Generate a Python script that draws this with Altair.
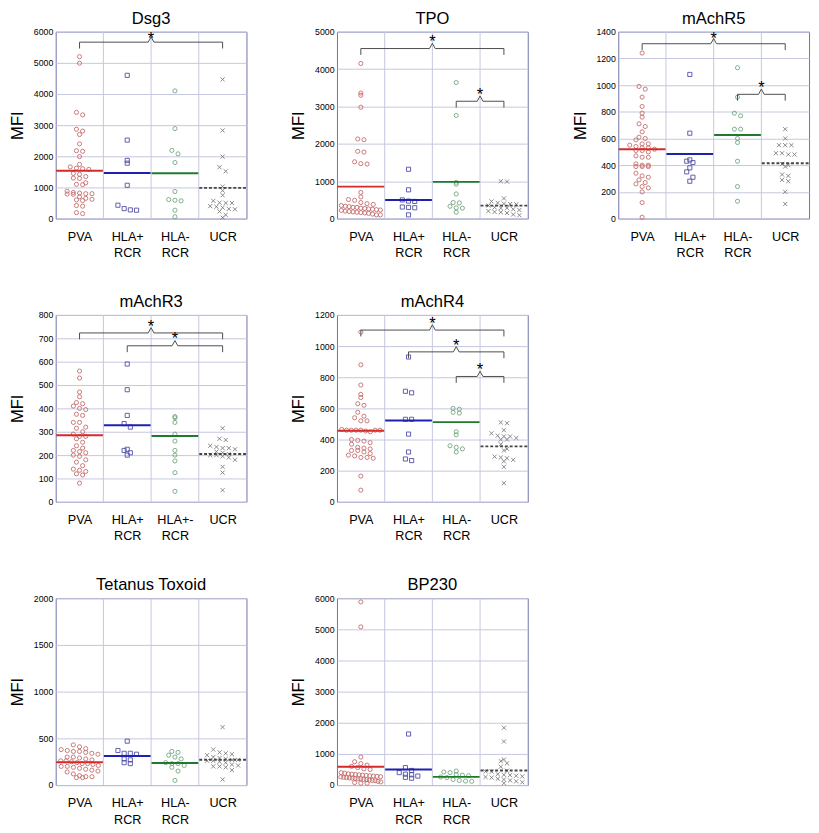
import json
import altair as alt
import pandas as pd

# ---------------- data ----------------
groups = ["PVA", "HLA+ RCR", "HLA- RCR", "UCR"]
labels_std = ["PVA", "HLA+|RCR", "HLA-|RCR", "UCR"]
labels_r3 = ["PVA", "HLA+|RCR", "HLA+-|RCR", "UCR"]

panel_titles = ["Dsg3", "TPO", "mAchR5", "mAchR3", "mAchR4", "Tetanus Toxoid", "BP230"]
y_max = [6000, 5000, 1400, 800, 1200, 2000, 6000]
y_step = [1000, 1000, 200, 100, 200, 500, 1000]

dsg3_pva = [5200, 4990, 3410, 3330, 2870, 2810, 2700, 2400, 2180, 2160, 1990, 1740, 1660, 1620, 1600, 1580,
            1450, 1420, 1350, 1300, 1290, 1150, 1100, 1090, 880, 840, 820, 800, 800, 790, 780, 700, 650, 620,
            600, 580, 420, 400, 190, 160]
dsg3_hlap = [4600, 2520, 1870, 1780, 1070, 430, 320, 280, 270]
dsg3_hlam = [4100, 2890, 2190, 2080, 1800, 870, 610, 590, 570, 270, 60]
dsg3_ucr = [4470, 2830, 1990, 1650, 1520, 1030, 900, 750, 570, 510, 500, 500, 400, 380, 350, 310, 300, 230, 120, 30]
dsg3_means = [1536, 1465, 1454, 986]
dsg3_brackets = [(1, 4, 5665)]

tpo_pva = [4150, 3360, 3300, 2980, 2130, 2110, 1800, 1780, 1520, 1470, 1460, 700, 580, 510, 490, 430, 400, 380,
           350, 330, 320, 300, 300, 280, 270, 260, 250, 240, 230, 220, 200, 190, 180, 170, 160, 150, 140, 120, 100, 100]
tpo_hlap = [1320, 770, 500, 470, 460, 310, 300, 290, 100]
tpo_hlam = [3640, 2760, 970, 920, 660, 430, 420, 330, 290, 280, 170]
tpo_ucr = [1000, 990, 540, 460, 420, 400, 390, 380, 350, 300, 280, 280, 250, 230, 200, 180, 170, 150, 110, 90]
tpo_means = [856, 500, 983, 347]
tpo_brackets = [(1, 4, 4550), (3, 4, 3140)]

r5_pva = [1240, 990, 970, 910, 840, 790, 760, 710, 690, 650, 610, 600, 590, 560, 560, 550, 540, 530, 530, 520,
          510, 510, 500, 470, 460, 460, 410, 400, 400, 390, 390, 390, 340, 320, 310, 290, 270, 260, 240, 230, 200, 120, 10]
r5_hlap = [1080, 640, 440, 430, 420, 380, 350, 310, 280]
r5_hlam = [1130, 910, 790, 770, 670, 670, 600, 570, 430, 240, 130]
r5_ucr = [670, 600, 550, 550, 550, 490, 490, 480, 480, 410, 400, 390, 330, 320, 290, 280, 200, 110]
r5_means = [520, 484, 626, 415]
r5_brackets = [(1, 4, 1310), (3, 4, 931)]

r3_pva = [560, 530, 470, 450, 425, 420, 410, 400, 395, 375, 370, 340, 340, 320, 315, 300, 290, 280, 280, 270,
          255, 240, 230, 220, 215, 210, 200, 195, 180, 170, 155, 140, 135, 130, 120, 115, 80]
r3_hlap = [590, 480, 370, 335, 320, 225, 220, 210, 200]
r3_hlam = [365, 360, 340, 290, 260, 220, 200, 175, 125, 45]
r3_ucr = [315, 270, 265, 240, 235, 230, 230, 225, 215, 210, 205, 200, 200, 195, 190, 180, 150, 125, 50]
r3_means = [285, 328, 282, 205]
r3_brackets = [(1, 4, 723), (2, 4, 668)]

r4_pva = [1090, 880, 750, 690, 670, 630, 620, 575, 550, 540, 520, 520, 465, 460, 460, 460, 460, 455, 450, 460,
          460, 400, 395, 390, 380, 370, 350, 345, 340, 330, 330, 320, 310, 300, 295, 285, 285, 280, 165, 75]
r4_hlap = [930, 710, 700, 530, 530, 435, 320, 275, 265]
r4_hlam = [600, 595, 575, 570, 450, 430, 360, 350, 340, 320]
r4_ucr = [510, 505, 460, 440, 425, 420, 420, 410, 400, 400, 370, 340, 330, 290, 285, 280, 270, 260, 225, 120]
r4_means = [457, 522, 512, 356]
r4_brackets = [(1, 4, 1103), (2, 4, 963), (3, 4, 805)]

tt_pva = [430, 410, 390, 380, 370, 360, 360, 350, 340, 330, 300, 300, 290, 280, 270, 260, 260, 250, 240, 230,
          230, 220, 210, 200, 200, 190, 180, 170, 160, 150, 140, 120, 100, 90, 90, 80, 80]
tt_hlap = [470, 370, 340, 340, 330, 280, 270, 240, 230]
tt_hlam = [360, 350, 320, 300, 280, 240, 230, 230, 210, 190, 150, 50]
tt_ucr = [620, 380, 350, 340, 330, 320, 300, 290, 280, 270, 270, 260, 260, 250, 240, 220, 210, 200, 200, 190, 160, 60]
tt_means = [244, 312, 237, 271]
tt_brackets = []

bp_pva = [5880, 5080, 900, 750, 690, 640, 600, 560, 520, 500, 400, 380, 360, 350, 340, 330, 320, 310, 300, 290,
          280, 270, 260, 250, 240, 230, 220, 210, 200, 200, 180, 170, 160, 150, 140, 120, 100, 80, 60, 60]
bp_hlap = [1640, 560, 470, 400, 350, 330, 290, 250, 220]
bp_hlam = [450, 420, 400, 340, 320, 300, 260, 240, 180, 150, 130, 120]
bp_ucr = [1840, 1400, 820, 770, 700, 590, 460, 440, 430, 350, 330, 320, 300, 280, 260, 240, 200, 180, 150, 120, 90, 60]
bp_means = [590, 498, 264, 468]
bp_brackets = []

# ---------------- styling ----------------
point_colors = ["#c46a6a", "#4d4da6", "#6fa57c", "#7a7a7a"]
line_colors = ["#d42a2a", "#1f1fb0", "#1f7a2e", "#444444"]
x_shape = "M-1,-1L1,1M-1,1L1,-1"
shapes = ["circle", "square", "circle", x_shape]
FONT = "Liberation Sans"
W, H = 196, 192


def spread(vals, ymax):
    """simple beeswarm: points falling in the same value bin are spread horizontally"""
    binw = ymax / 34.0
    bins = {}
    for i, v in enumerate(vals):
        bins.setdefault(int(round(v / binw)), []).append(i)
    offs = [0.0] * len(vals)
    for idx in bins.values():
        k = len(idx)
        sp = min(0.13, 0.9 / k)
        for j, i in enumerate(idx):
            offs[i] = (j - (k - 1) / 2.0) * sp
    return offs


def panel(title, ymax, step, series, means, brackets, labels):
    pts = []
    for gi, (g, vals) in enumerate(zip(groups, series)):
        for v, o in zip(vals, spread(vals, ymax)):
            pts.append({"x": gi + 1 + o, "y": v, "group": g})
    pts = pd.DataFrame(pts)
    mdf = pd.DataFrame({"x": [i + 1 - 0.49 for i in range(len(groups))],
                        "x2": [i + 1 + 0.49 for i in range(len(groups))],
                        "y": means, "group": groups})
    sep = pd.DataFrame({"x": [i + 1.5 for i in range(len(groups) - 1)]})

    brows, srows = [], []
    e, s, w = 0.034 * ymax, 0.028 * ymax, 0.06
    px_val = ymax / H
    for bi, (a, b, h) in enumerate(brackets):
        xm = (a + b) / 2.0
        path = [(a, h - e), (a, h), (xm - w, h), (xm, h + s), (xm + w, h), (b, h), (b, h - e)]
        for k, (px, py) in enumerate(path):
            brows.append({"x": px, "y": py, "b": bi, "k": k})
        srows.append({"x": xm, "y": min(h + s + 9 * px_val, ymax)})
    bdf = pd.DataFrame(brows if brows else {"x": [], "y": [], "b": [], "k": []})
    sdf = pd.DataFrame(srows if srows else {"x": [], "y": []})

    lab_expr = "split(" + json.dumps(labels).replace('"', "'") + "[datum.value - 1], '|')"
    xscale = alt.Scale(domain=[0.5, 4.5], nice=False, zero=False)
    yscale = alt.Scale(domain=[0, ymax], nice=False)
    xax = alt.Axis(values=[1, 2, 3, 4], labelExpr=lab_expr, grid=False, ticks=False, domain=False,
                   labelFontSize=13, labelPadding=18, labelBaseline="middle", labelLineHeight=17,
                   labelAngle=0, labelFlush=False, labelOverlap=False, title=None, labelColor="#000")
    yax = alt.Axis(values=list(range(0, ymax + 1, step)), format="d", grid=True, gridColor="#c3c6de",
                   gridWidth=1, ticks=False, domain=False, labelFontSize=9, labelPadding=3, labelColor="#000",
                   title="MFI", titleFontSize=17, titleFontWeight="normal", titlePadding=8,
                   titleColor="#000", minExtent=22, maxExtent=22)
    X = alt.X("x:Q", scale=xscale, axis=xax)
    Y = alt.Y("y:Q", scale=yscale, axis=yax)

    seps = alt.Chart(sep).mark_rule(color="#c3c6de", strokeWidth=1).encode(
        x=X, y=alt.value(0), y2=alt.value(H))
    points = alt.Chart(pts).mark_point(filled=False, size=18, strokeWidth=0.9, opacity=1).encode(
        x=X, y=Y,
        color=alt.Color("group:N", scale=alt.Scale(domain=groups, range=point_colors), legend=None),
        shape=alt.Shape("group:N", scale=alt.Scale(domain=groups, range=shapes), legend=None))
    mlines = alt.Chart(mdf).mark_rule().encode(
        x=X, x2="x2:Q", y=Y,
        stroke=alt.Stroke("group:N", scale=alt.Scale(domain=groups, range=line_colors), legend=None),
        strokeWidth=alt.StrokeWidth("group:N", scale=alt.Scale(domain=groups, range=[2, 2, 2, 0.8]), legend=None),
        strokeDash=alt.StrokeDash("group:N", scale=alt.Scale(domain=groups, range=[[1, 0], [1, 0], [1, 0], [3, 2]]),
                                  legend=None))
    layers = [seps, points, mlines]
    if len(bdf):
        blines = alt.Chart(bdf).mark_line(color="#4a4a4a", strokeWidth=1, interpolate="linear").encode(
            x=X, y=Y, detail="b:N", order="k:Q")
        stars = alt.Chart(sdf).mark_text(text="*", fontSize=17, color="#000", baseline="top",
                                         font=FONT).encode(x=X, y=Y)
        layers += [blines, stars]
    return alt.layer(*layers).properties(
        width=W, height=H,
        title=alt.TitleParams(title, fontSize=17, fontWeight="normal", offset=0, font=FONT, color="#000"))


series_all = [
    (dsg3_pva, dsg3_hlap, dsg3_hlam, dsg3_ucr),
    (tpo_pva, tpo_hlap, tpo_hlam, tpo_ucr),
    (r5_pva, r5_hlap, r5_hlam, r5_ucr),
    (r3_pva, r3_hlap, r3_hlam, r3_ucr),
    (r4_pva, r4_hlap, r4_hlam, r4_ucr),
    (tt_pva, tt_hlap, tt_hlam, tt_ucr),
    (bp_pva, bp_hlap, bp_hlam, bp_ucr),
]
means_all = [dsg3_means, tpo_means, r5_means, r3_means, r4_means, tt_means, bp_means]
brackets_all = [dsg3_brackets, tpo_brackets, r5_brackets, r3_brackets, r4_brackets, tt_brackets, bp_brackets]
labels_all = [labels_std, labels_std, labels_std, labels_r3, labels_std, labels_std, labels_std]

charts = [panel(t, ym, st, se, me, br, lb) for t, ym, st, se, me, br, lb in
          zip(panel_titles, y_max, y_step, series_all, means_all, brackets_all, labels_all)]

row1 = alt.hconcat(charts[0], charts[1], charts[2], spacing=42)
row2 = alt.hconcat(charts[3], charts[4], spacing=42)
row3 = alt.hconcat(charts[5], charts[6], spacing=42)

chart = alt.vconcat(row1, row2, row3, spacing=33).properties(
    padding={"left": 0, "top": -10, "right": 0, "bottom": 0}
).configure(font=FONT).configure_view(stroke="#6c70a8", strokeWidth=1).configure_axis(
    labelFont=FONT, titleFont=FONT)

chart.save("out.html", embed_options={"renderer": "svg", "actions": False})
